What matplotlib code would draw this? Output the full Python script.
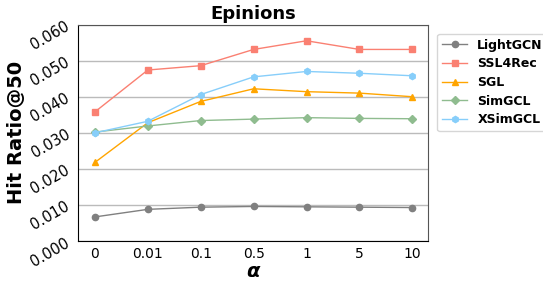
import matplotlib
matplotlib.use('Agg')
import matplotlib.pyplot as plt

alphas = ['0', '0.01', '0.1', '0.5', '1', '5', '10']
lightgcn = [0.0067, 0.0088, 0.0094, 0.0096, 0.0095, 0.0094, 0.0093]
ssl4rec = [0.0358, 0.0474, 0.0486, 0.0531, 0.0555, 0.0531, 0.0531]
sgl = [0.0218, 0.0328, 0.0387, 0.0422, 0.0414, 0.0410, 0.0400]
simgcl = [0.0302, 0.0319, 0.0334, 0.0338, 0.0342, 0.0340, 0.0339]
xsimgcl = [0.0300, 0.0332, 0.0406, 0.0455, 0.0470, 0.0465, 0.0458]

fig = plt.figure(figsize=(5.43, 2.82), dpi=100)
ax = fig.add_axes([0.1436, 0.145, 0.645, 0.768])

x = range(len(alphas))
ax.plot(x, lightgcn, color='grey', marker='o', ms=4.5, lw=1, label='LightGCN')
ax.plot(x, ssl4rec, color='salmon', marker='s', ms=4.5, lw=1, label='SSL4Rec')
ax.plot(x, sgl, color='orange', marker='^', ms=5, lw=1, label='SGL')
ax.plot(x, simgcl, color='darkseagreen', marker='D', ms=4.5, lw=1, label='SimGCL')
ax.plot(x, xsimgcl, color='lightskyblue', marker='h', ms=4.5, lw=1, label='XSimGCL')

ax.set_ylim(0, 0.06)
ax.set_yticks([0, 0.01, 0.02, 0.03, 0.04, 0.05, 0.06])
ax.set_yticklabels(['%.3f' % v for v in ax.get_yticks()], rotation=30, fontsize=10.5)
ax.set_xticks(list(x))
ax.set_xticklabels(alphas, fontsize=10)
ax.set_xlim(-0.32, 6.3)
ax.tick_params(length=0, pad=4)
ax.yaxis.grid(True, color='#bbbbbb', lw=1)
ax.set_axisbelow(True)
for s in ['top', 'right']:
    ax.spines[s].set_color('#555555')

ax.set_title('Epinions', fontsize=13, fontweight='bold', pad=4)
ax.set_ylabel('Hit Ratio@50', fontsize=14, fontweight='bold', labelpad=2)
ax.set_xlabel('α', fontsize=14, fontweight='bold', style='italic', labelpad=1)
ax.legend(loc='upper left', bbox_to_anchor=(1.026, 0.958), borderaxespad=0,
          prop={'weight': 'bold', 'size': 9}, handlelength=2.0, labelspacing=0.45)

fig.savefig('out.png', dpi=100)
